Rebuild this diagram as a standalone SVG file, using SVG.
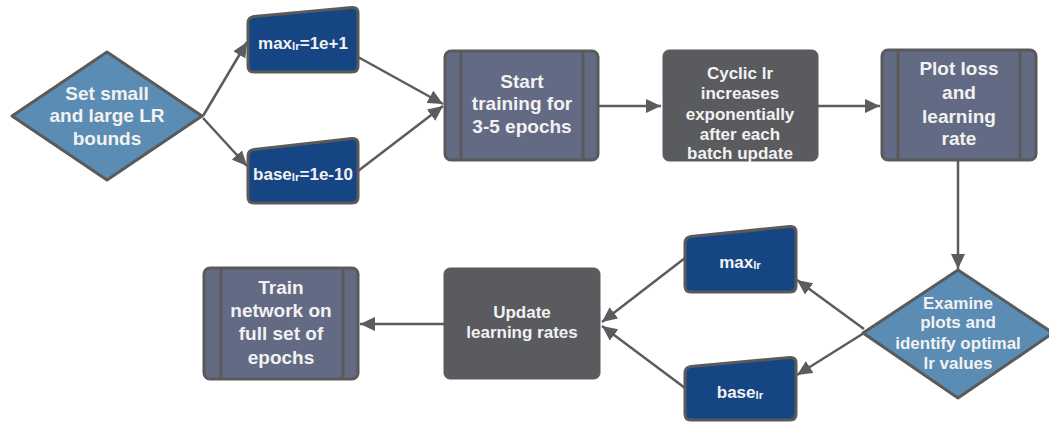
<svg xmlns="http://www.w3.org/2000/svg" width="1049" height="423" viewBox="0 0 1049 423">
<defs>
<marker id="ah" markerUnits="userSpaceOnUse" markerWidth="16" markerHeight="14" refX="15" refY="7" orient="auto">
<path d="M0,0 L15,7 L0,14 Z" fill="#5b5c5e"/>
</marker>
<style>
.proc{fill:#636a83;stroke:#5a5a5a;stroke-width:3}
.bar{stroke:#5a5a5a;stroke-width:3}
.dark{fill:#5a5b5e;stroke:#5a5b5e;stroke-width:1}
.dia{fill:#5a8cb4;stroke:#5a5a5a;stroke-width:3;stroke-linejoin:round}
.man{fill:#154583;stroke:#5a5a5a;stroke-width:3}
.t{font-family:"Liberation Sans",Arial,sans-serif;font-weight:bold;fill:#f2f2f2;text-anchor:middle}
.t19{font-size:19px}
.t17{font-size:17px}
.t16{font-size:17px}
.sub{font-size:11.5px}
.c{fill:none;stroke:#5b5c5e;stroke-width:2.5;marker-end:url(#ah)}
</style>
</defs>
<rect width="1049" height="423" fill="#ffffff"/>

<g id="connectors">
<line class="c" x1="203" y1="116" x2="247" y2="42"/>
<line class="c" x1="203" y1="118" x2="247" y2="166"/>
<line class="c" x1="358" y1="57" x2="443" y2="104"/>
<line class="c" x1="358" y1="171" x2="443" y2="106"/>
<line class="c" x1="598" y1="106" x2="661" y2="106"/>
<line class="c" x1="818" y1="106" x2="880" y2="106"/>
<line class="c" x1="958" y1="161" x2="958" y2="269"/>
<line class="c" x1="864" y1="329" x2="797" y2="280"/>
<line class="c" x1="864" y1="333" x2="797" y2="375"/>
<line class="c" x1="685" y1="258" x2="602" y2="322"/>
<line class="c" x1="685" y1="388" x2="602" y2="326"/>
<line class="c" x1="444" y1="324" x2="360" y2="324"/>
</g>

<g id="set-bounds">
<path class="dia" d="M107,52 L202,116 L107,180 L12,116 Z"/>
<text class="t t19" x="107" y="100">Set small</text>
<text class="t t19" x="107" y="122">and large LR</text>
<text class="t t19" x="107" y="145">bounds</text>
</g>

<g id="max-lr-1">
<path class="man" d="M248,23 Q248,17.5 254,16.5 L352,7.5 Q358,7 358,13 L358,66 Q358,72 352,72 L254,72 Q248,72 248,66 Z"/>
<text class="t t16" x="303" y="49">max<tspan class="sub" dy="1">lr</tspan><tspan dy="-1">=1e+1</tspan></text>
</g>

<g id="base-lr-1">
<path class="man" d="M248,156 Q248,150.5 254,149.5 L352,138.5 Q358,138 358,144 L358,197 Q358,203 352,203 L254,203 Q248,203 248,197 Z"/>
<text class="t t16" x="303" y="180">base<tspan class="sub" dy="1">lr</tspan><tspan dy="-1">=1e-10</tspan></text>
</g>

<g id="start-training">
<rect class="proc" x="445" y="51" width="153" height="109" rx="6"/>
<line class="bar" x1="461" y1="51" x2="461" y2="160"/>
<line class="bar" x1="583" y1="51" x2="583" y2="160"/>
<text class="t t19" x="522" y="88">Start</text>
<text class="t t19" x="522" y="110">training for</text>
<text class="t t19" x="522" y="133">3-5 epochs</text>
</g>

<g id="cyclic-lr">
<rect class="dark" x="663" y="50" width="155" height="111" rx="6"/>
<text class="t t17" x="740" y="79">Cyclic lr</text>
<text class="t t17" x="740" y="99">increases</text>
<text class="t t17" x="740" y="120">exponentially</text>
<text class="t t17" x="740" y="140">after each</text>
<text class="t t17" x="740" y="159">batch update</text>
</g>

<g id="plot-loss">
<rect class="proc" x="882" y="50" width="154" height="110" rx="6"/>
<line class="bar" x1="898" y1="50" x2="898" y2="160"/>
<line class="bar" x1="1020" y1="50" x2="1020" y2="160"/>
<text class="t t19" x="959" y="75">Plot loss</text>
<text class="t t19" x="959" y="99">and</text>
<text class="t t19" x="959" y="123">learning</text>
<text class="t t19" x="959" y="145">rate</text>
</g>

<g id="examine">
<path class="dia" d="M958,270 L1053,333 L958,398 L863,333 Z"/>
<text class="t t17" x="958" y="309">Examine</text>
<text class="t t17" x="958" y="328">plots and</text>
<text class="t t17" x="958" y="349">identify optimal</text>
<text class="t t17" x="958" y="369">lr values</text>
</g>

<g id="max-lr-2">
<path class="man" d="M685,243 Q685,237.5 691,236.5 L790,226.5 Q796,226 796,232 L796,286 Q796,292 790,292 L691,292 Q685,292 685,286 Z"/>
<text class="t t16" x="740" y="268">max<tspan class="sub" dy="1">lr</tspan></text>
</g>

<g id="base-lr-2">
<path class="man" d="M685,373 Q685,367.5 691,366.5 L790,357.5 Q796,357 796,363 L796,414 Q796,420 790,420 L691,420 Q685,420 685,414 Z"/>
<text class="t t16" x="740" y="398">base<tspan class="sub" dy="1">lr</tspan></text>
</g>

<g id="update-lr">
<rect class="dark" x="444" y="268" width="156" height="111" rx="6"/>
<text class="t t17" x="522" y="318">Update</text>
<text class="t t17" x="522" y="338">learning rates</text>
</g>

<g id="train-network">
<rect class="proc" x="204" y="268" width="154" height="111" rx="6"/>
<line class="bar" x1="221" y1="268" x2="221" y2="379"/>
<line class="bar" x1="343" y1="268" x2="343" y2="379"/>
<text class="t t19" x="281" y="294">Train</text>
<text class="t t19" x="281" y="317">network on</text>
<text class="t t19" x="281" y="340">full set of</text>
<text class="t t19" x="281" y="364">epochs</text>
</g>
</svg>
